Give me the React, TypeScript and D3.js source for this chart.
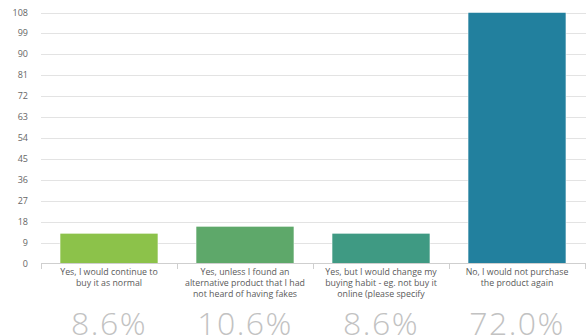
import React from "react";
import * as d3 from "d3";

const categories = [
  ["Yes, I would continue to", "buy it as normal"],
  ["Yes, unless I found an", "alternative product that I had", "not heard of having fakes"],
  ["Yes, but I would change my", "buying habit - eg. not buy it", "online (please specify"],
  ["No, I would not purchase", "the product again"],
];
const values = [13, 16, 13, 108];
const percents = ["8.6%", "10.6%", "8.6%", "72.0%"];
const colors = ["#8cc24a", "#5ea86a", "#3f9a83", "#22809e"];
const yTicks = [0, 9, 18, 27, 36, 45, 54, 63, 72, 81, 90, 99, 108];

const W = 586;
const H = 336;

export default function App() {
  const x = d3
    .scaleBand<number>()
    .domain(d3.range(values.length))
    .range([41, 585])
    .paddingInner(0.28)
    .paddingOuter(0.14);
  const step = x.step();
  const y = d3.scaleLinear().domain([0, 108]).range([263.5, 12.5]);
  const font = "'Open Sans', 'Noto Sans', sans-serif";

  return (
    <svg width={W} height={H} style={{ position: "absolute", left: 0, top: 0 }} fontFamily={font}>
      <rect width={W} height={H} fill="#fff" />
      {yTicks.map((t) => (
        <g key={t}>
          {t > 0 && (
            <line x1={41} x2={586} y1={Math.round(y(t)) + 0.5} y2={Math.round(y(t)) + 0.5} stroke="#e3e3e3" strokeWidth={1} />
          )}
          <text x={28} y={y(t) + 3} textAnchor="end" fontSize={9} fill="#666">
            {t}
          </text>
        </g>
      ))}
      {values.map((v, i) => (
        <rect
          key={i}
          x={x(i)!}
          y={y(v)}
          width={x.bandwidth()}
          height={y(0) - y(v)}
          fill={colors[i]}
          stroke="#fff"
          strokeWidth={0.5}
        />
      ))}
      <line x1={41} x2={586} y1={263.5} y2={263.5} stroke="#cfcfcf" strokeWidth={1} />
      {d3.range(values.length + 1).map((i) => {
        const xx = Math.round(41 + i * step) + 0.5;
        return <line key={i} x1={xx} x2={xx} y1={263.5} y2={269} stroke="#cfcfcf" strokeWidth={1} />;
      })}
      {categories.map((lines, i) => {
        const cx = x(i)! + x.bandwidth() / 2;
        return (
          <g key={i}>
            {lines.map((l, j) => (
              <text key={j} x={cx} y={275 + j * 10.8} textAnchor="middle" fontSize={8.8} fill="#5a5a5a">
                {l}
              </text>
            ))}
            <text x={cx} y={335} textAnchor="middle" fontSize={32} fontWeight={300} letterSpacing={1.5} fill="#c2c2c2">
              {percents[i]}
            </text>
          </g>
        );
      })}
    </svg>
  );
}
